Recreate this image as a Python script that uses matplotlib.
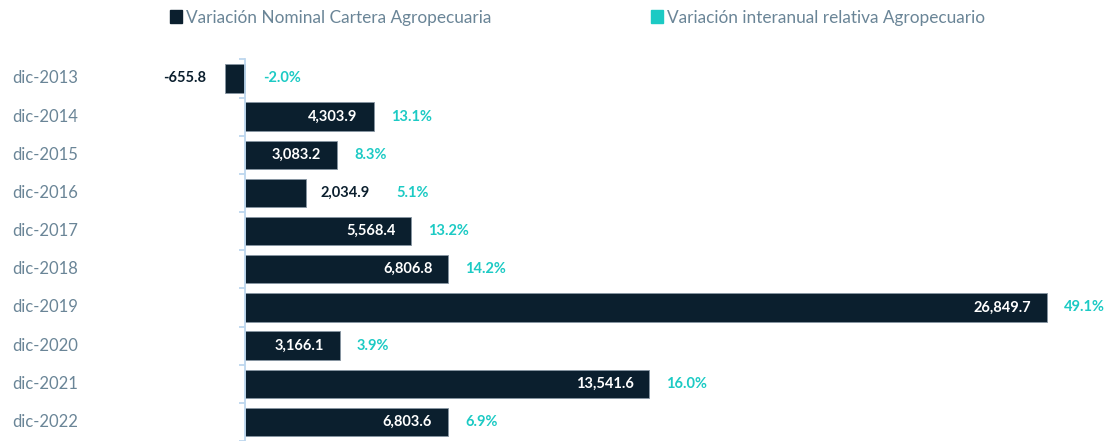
import matplotlib.pyplot as plt
import matplotlib.transforms as mtransforms
from matplotlib.patches import Patch
import numpy as np

categorias = ["dic-2013", "dic-2014", "dic-2015", "dic-2016", "dic-2017",
              "dic-2018", "dic-2019", "dic-2020", "dic-2021", "dic-2022"]
variacion_nominal = [-655.8, 4303.9, 3083.2, 2034.9, 5568.4,
                     6806.8, 26849.7, 3166.1, 13541.6, 6803.6]
variacion_relativa = [-2.0, 13.1, 8.3, 5.1, 13.2, 14.2, 49.1, 3.9, 16.0, 6.9]

NAVY = "#0b1f2e"
TEAL = "#1ccac4"
GRIS = "#6a8597"
EJE = "#bdd7ee"

plt.rcParams["font.family"] = ["Lato", "DejaVu Sans"]

W, H = 1107, 441
fig = plt.figure(figsize=(W / 100, H / 100), dpi=100)
ax = fig.add_axes([0, 0, 1, 1])

# escala: cero en x=245 px, 26,849.7 en x=1047 px
cero_px = 245
escala = (1047 - cero_px) / 26849.7
ax.set_xlim(-cero_px / escala, (W - cero_px) / escala)
paso = 38.67
primera = 79.5
ax.set_ylim((H - primera) / paso, -primera / paso)

y = np.arange(len(categorias))
ax.barh(y, variacion_nominal, height=0.74, color=NAVY, edgecolor="#8796a3", linewidth=0.6, zorder=2)

for s in ["top", "right", "bottom"]:
    ax.spines[s].set_visible(False)
ax.spines["left"].set_position(("data", 0))
ax.spines["left"].set_bounds(-0.5, len(categorias) - 0.5)
ax.spines["left"].set_color(EJE)
ax.spines["left"].set_linewidth(1.3)
ax.spines["left"].set_zorder(3)
ax.set_xticks([])
ax.set_yticks(y)
ax.set_yticklabels([])
ax.tick_params(axis="y", which="major", length=0)
ax.set_yticks(np.arange(-0.5, len(categorias)), minor=True)
ax.tick_params(axis="y", which="minor", length=4, width=1.3, color=EJE, direction="out")

trans = mtransforms.blended_transform_factory(ax.transAxes, ax.transData)
for i, cat in enumerate(categorias):
    ax.text(12 / W, i, cat, transform=trans, ha="left", va="center", fontsize=12, color=GRIS)

for i, (v, p) in enumerate(zip(variacion_nominal, variacion_relativa)):
    txt = f"{v:,.1f}"
    if v > 2500:
        ax.annotate(txt, (v, i), xytext=(-16, 0), textcoords="offset pixels",
                    ha="right", va="center", fontsize=10.5, fontweight="bold", color="white", zorder=4)
        ax.annotate(f"{p:.1f}%", (v, i), xytext=(17, 0), textcoords="offset pixels",
                    ha="left", va="center", fontsize=10.5, fontweight="bold", color=TEAL)
    elif v < 0:
        ax.annotate(txt, (v, i), xytext=(-19, 0), textcoords="offset pixels",
                    ha="right", va="center", fontsize=10.5, fontweight="bold", color=NAVY)
        ax.annotate(f"{p:.1f}%", (0, i), xytext=(18, 0), textcoords="offset pixels",
                    ha="left", va="center", fontsize=10.5, fontweight="bold", color=TEAL)
    else:
        lab = ax.annotate(txt, (v, i), xytext=(15, 0), textcoords="offset pixels",
                          ha="left", va="center", fontsize=10.5, fontweight="bold", color=NAVY)
        ax.annotate(f"{p:.1f}%", (1, 0.5), xycoords=lab, xytext=(26, 0), textcoords="offset pixels",
                    ha="left", va="center", fontsize=10.5, fontweight="bold", color=TEAL)

handles = [Patch(color=NAVY, label="Variación Nominal Cartera Agropecuaria"),
           Patch(color=TEAL, label="Variación interanual relativa Agropecuario")]
leg = fig.legend(handles=handles, ncol=2, loc="center left", bbox_to_anchor=(170 / W, 1 - 17.5 / H),
                 frameon=False, fontsize=12.4, handlelength=0.7, handleheight=0.7,
                 handletextpad=0.2, columnspacing=9.3, borderaxespad=0, borderpad=0)
for t in leg.get_texts():
    t.set_color(GRIS)

fig.savefig("out.png", dpi=100)
